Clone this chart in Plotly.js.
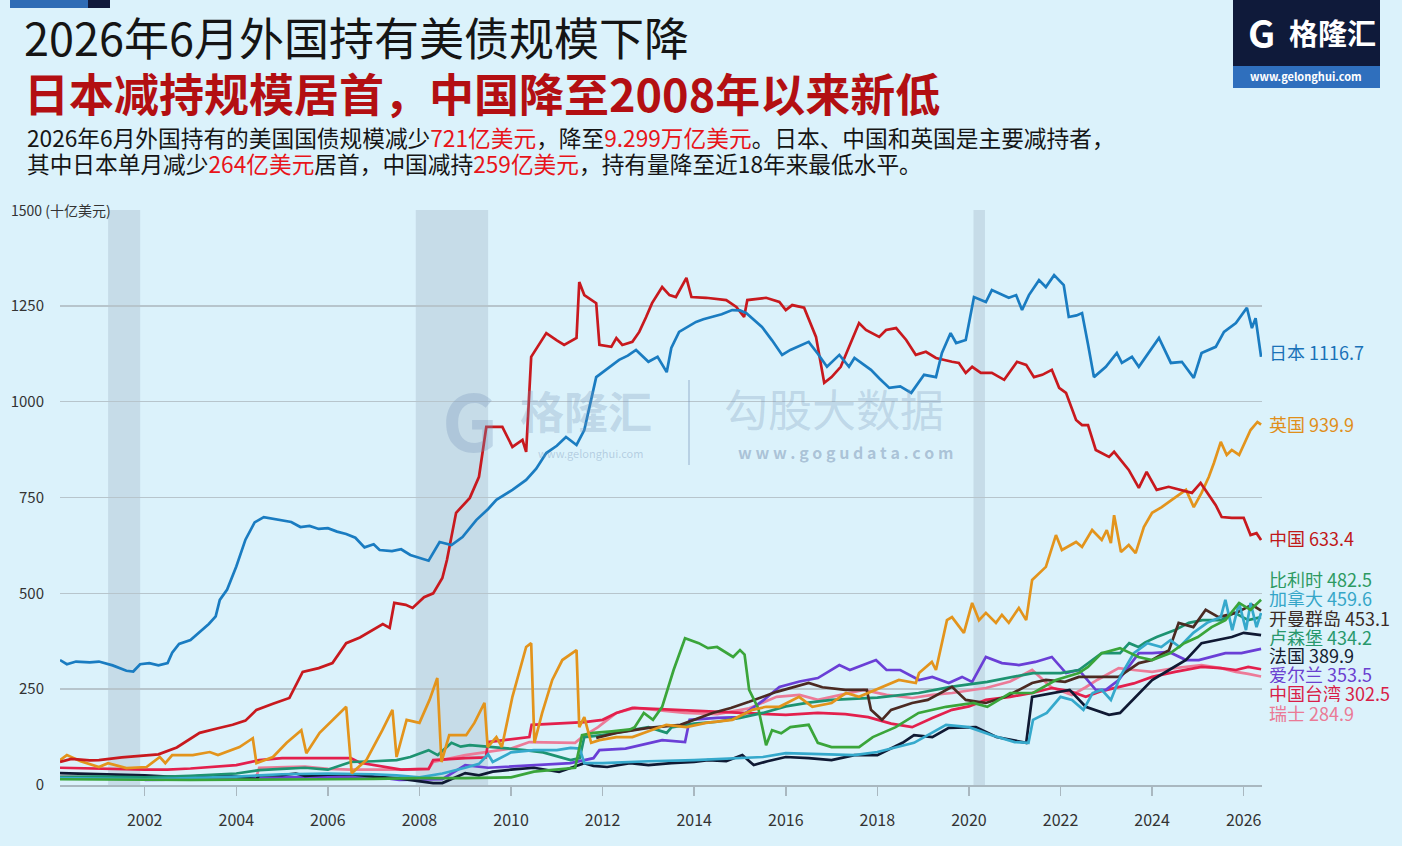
<!DOCTYPE html>
<html><head><meta charset="utf-8">
<script src="https://cdn.plot.ly/plotly-3.0.1.min.js"></script>
<style>html,body{margin:0;padding:0;background:#dbf2fb;}#chart{width:1402px;height:846px;}</style>
</head><body><div id="chart"></div>
<script>
// ---------- data (十亿美元) ----------
const seriesNames = ['日本','中国','英国','比利时','加拿大','开曼群岛','卢森堡','法国','爱尔兰','中国台湾','瑞士'];
const lastValues = ['1116.7','633.4','939.9','482.5','459.6','453.1','434.2','389.9','353.5','302.5','284.9'];
const xTickVals = [2002,2004,2006,2008,2010,2012,2014,2016,2018,2020,2022,2024,2026];
const yTickVals = [0,250,500,750,1000,1250,1500];
const yTickText = ['0','250','500','750','1000','1250',''];
const recessionStart = [2001.2, 2007.92, 2020.1];
const recessionEnd = [2001.9, 2009.5, 2020.35];

const jpX = [2000.15,2000.3,2000.5,2000.8,2001.0,2001.3,2001.6,2001.75,2001.9,2002.1,2002.3,2002.5,2002.6,2002.75,2003.0,2003.2,2003.4,2003.55,2003.64,2003.8,2004.0,2004.2,2004.4,2004.6,2004.8,2005.0,2005.2,2005.4,2005.6,2005.8,2006.0,2006.2,2006.4,2006.6,2006.8,2007.0,2007.13,2007.4,2007.6,2007.8,2008.0,2008.2,2008.44,2008.7,2008.94,2009.24,2009.5,2009.68,2010.03,2010.33,2010.55,2010.77,2011.0,2011.2,2011.43,2011.6,2011.86,2012.15,2012.36,2012.55,2012.73,2013.0,2013.2,2013.4,2013.5,2013.67,2013.85,2014.04,2014.2,2014.4,2014.6,2014.83,2015.0,2015.14,2015.3,2015.48,2015.7,2015.92,2016.1,2016.3,2016.5,2016.7,2016.9,2017.17,2017.38,2017.5,2017.7,2017.86,2018.05,2018.26,2018.5,2018.74,2019.02,2019.28,2019.41,2019.6,2019.72,2019.93,2020.11,2020.37,2020.5,2020.7,2020.87,2021.03,2021.16,2021.31,2021.53,2021.68,2021.86,2022.07,2022.18,2022.35,2022.47,2022.6,2022.73,2022.99,2023.23,2023.34,2023.56,2023.71,2023.97,2024.15,2024.41,2024.65,2024.91,2025.08,2025.39,2025.57,2025.83,2026.07,2026.18,2026.26,2026.38];
const jpY = [326,315,322,320,322,312,298,296,315,318,312,318,345,368,378,399,420,440,483,510,570,640,685,699,695,690,686,673,676,668,670,661,655,645,620,628,613,610,615,600,592,585,634,626,647,691,720,744,770,796,825,866,885,908,887,926,1064,1091,1109,1120,1135,1104,1117,1077,1140,1182,1195,1208,1215,1221,1228,1239,1238,1231,1215,1195,1160,1122,1135,1145,1156,1125,1091,1122,1091,1114,1098,1083,1060,1036,1040,1023,1070,1064,1127,1179,1153,1161,1273,1260,1291,1280,1271,1278,1239,1278,1317,1299,1330,1304,1221,1225,1231,1150,1064,1091,1127,1101,1117,1091,1135,1166,1101,1104,1062,1127,1143,1182,1205,1245,1192,1218,1117];

const cnX = [2000.15,2000.4,2000.8,2001.0,2001.5,2002.0,2002.3,2002.7,2003.2,2003.6,2003.92,2004.2,2004.44,2004.8,2005.16,2005.45,2005.8,2006.1,2006.4,2006.7,2006.98,2007.2,2007.35,2007.45,2007.7,2007.85,2008.1,2008.3,2008.5,2008.6,2008.8,2009.1,2009.3,2009.46,2009.81,2010.03,2010.25,2010.33,2010.44,2010.77,2011.0,2011.16,2011.43,2011.49,2011.6,2011.86,2011.93,2012.19,2012.3,2012.43,2012.65,2012.8,2012.95,2013.08,2013.3,2013.46,2013.6,2013.83,2013.94,2014.26,2014.7,2014.92,2015.09,2015.16,2015.57,2015.86,2016.0,2016.14,2016.4,2016.66,2016.84,2017.0,2017.2,2017.38,2017.6,2017.75,2018.04,2018.19,2018.41,2018.63,2018.84,2019.06,2019.28,2019.63,2019.78,2019.93,2020.07,2020.26,2020.5,2020.77,2021.05,2021.25,2021.42,2021.6,2021.81,2021.97,2022.12,2022.34,2022.47,2022.6,2022.77,2023.06,2023.17,2023.49,2023.71,2023.88,2024.1,2024.36,2024.63,2024.87,2025.06,2025.39,2025.52,2025.74,2026.0,2026.15,2026.28,2026.38];
const cnY = [60,68,64,65,72,78,80,98,136,148,157,168,196,212,227,295,305,318,370,385,404,420,410,475,470,462,490,500,540,587,710,749,804,934,934,882,900,869,1117,1179,1160,1148,1166,1312,1278,1257,1148,1143,1166,1148,1156,1182,1221,1257,1299,1278,1273,1323,1273,1271,1265,1247,1221,1265,1271,1260,1239,1252,1245,1169,1049,1064,1091,1143,1205,1187,1169,1187,1192,1161,1122,1130,1114,1104,1101,1075,1091,1075,1075,1057,1104,1096,1064,1070,1083,1036,1023,952,939,939,874,856,869,822,775,817,770,778,770,762,788,730,699,697,697,652,657,639];

const ukX = [2000.15,2000.3,2000.6,2001.0,2001.2,2001.6,2002.04,2002.33,2002.45,2002.6,2003.05,2003.42,2003.6,2004.07,2004.36,2004.44,2004.8,2005.1,2005.42,2005.53,2005.82,2006.1,2006.4,2006.52,2006.84,2007.19,2007.41,2007.5,2007.72,2008.0,2008.22,2008.39,2008.48,2008.65,2009.02,2009.2,2009.42,2009.49,2009.68,2009.8,2010.03,2010.33,2010.44,2010.51,2010.68,2010.9,2011.12,2011.43,2011.49,2011.6,2011.75,2011.93,2012.3,2012.65,2013.08,2013.39,2013.83,2014.26,2014.83,2015.27,2015.57,2015.86,2016.29,2016.58,2017.0,2017.32,2017.6,2017.97,2018.47,2018.84,2018.91,2019.19,2019.28,2019.52,2019.63,2019.89,2020.07,2020.22,2020.37,2020.59,2020.72,2020.87,2021.09,2021.25,2021.38,2021.68,2021.9,2022.03,2022.34,2022.47,2022.69,2022.9,2023.01,2023.1,2023.17,2023.32,2023.49,2023.64,2023.82,2024.0,2024.21,2024.43,2024.74,2024.91,2025.08,2025.24,2025.35,2025.5,2025.63,2025.74,2025.9,2026.15,2026.3,2026.38];
const ukY = [65,78,62,47,57,44,47,73,57,78,78,86,78,99,122,57,73,110,143,83,136,170,204,31,65,143,196,73,170,162,222,279,60,130,130,162,214,99,125,99,230,360,370,110,188,274,326,352,151,177,110,117,125,125,143,157,151,162,170,196,204,204,230,204,214,240,230,248,274,266,292,321,300,430,438,397,475,430,449,423,444,423,462,430,535,569,652,613,634,621,665,639,665,631,704,608,626,605,673,710,725,744,770,725,762,804,840,895,861,874,861,926,947,940];

const beX = [2000.15,2001,2002,2003,2004,2005,2006,2007,2008,2009,2010,2010.5,2011.4,2011.55,2011.8,2012.2,2012.6,2012.7,2012.9,2013.1,2013.3,2013.55,2013.8,2014.1,2014.3,2014.5,2014.7,2014.85,2015.0,2015.1,2015.2,2015.4,2015.57,2015.7,2015.9,2016.1,2016.5,2016.7,2017.0,2017.3,2017.6,2017.9,2018.4,2018.9,2019.5,2020.1,2020.4,2020.9,2021.4,2021.9,2022.4,2022.6,2022.9,2023.3,2023.7,2024.0,2024.4,2024.7,2025.0,2025.3,2025.6,2025.9,2026.15,2026.38];
const beY = [15,14,13,13,14,14,15,16,18,18,20,35,45,130,136,140,145,151,188,170,204,300,383,370,357,360,345,334,352,340,248,200,104,143,135,151,157,110,99,99,99,125,151,188,204,214,204,240,240,274,292,308,344,357,334,326,344,370,386,412,430,475,457,483];

const caX = [2000.15,2001,2002,2003,2004,2005,2006,2007,2007.5,2008,2008.5,2009,2009.3,2009.5,2009.6,2010,2010.5,2011,2011.3,2011.5,2011.6,2012,2013,2014,2015,2015.5,2016,2017,2017.5,2018,2018.8,2019.5,2020.0,2020.5,2021.0,2021.3,2021.4,2021.7,2022.0,2022.25,2022.5,2022.7,2022.9,2023.1,2023.3,2023.6,2023.9,2024.2,2024.4,2024.6,2024.9,2025.2,2025.5,2025.6,2025.75,2025.9,2026.05,2026.15,2026.28,2026.38];
const caY = [18,17,15,18,22,28,30,28,25,20,30,45,55,80,60,85,91,91,97,95,57,57,62,65,70,73,83,80,78,86,110,157,151,130,112,110,170,188,230,222,196,240,248,222,282,344,370,360,378,360,397,423,438,483,404,475,404,475,412,449];

const kyX = [2011.86,2012.3,2013.0,2013.7,2014.4,2014.8,2015.2,2015.8,2016.5,2016.8,2017.3,2017.77,2017.86,2018.1,2018.3,2018.76,2019.1,2019.63,2019.93,2020.37,2020.8,2021.38,2021.68,2022.1,2022.4,2023.0,2023.27,2023.71,2024.0,2024.37,2024.58,2024.9,2025.17,2025.45,2025.83,2026.18,2026.38];
const kyY = [123,136,149,157,188,201,217,243,266,255,248,248,196,170,196,214,222,256,222,214,230,266,274,269,282,282,282,318,326,352,423,412,457,438,449,470,455];

const luX = [2000.15,2001,2002,2003,2004,2004.5,2005,2005.5,2006,2006.5,2007,2007.5,2007.8,2008.2,2008.4,2008.7,2008.9,2009.1,2009.6,2010.0,2010.3,2010.7,2011.3,2011.5,2011.6,2012.0,2012.5,2013.0,2013.4,2013.5,2014.0,2014.5,2015.0,2015.5,2016.0,2016.5,2017.0,2017.5,2018.0,2018.9,2019.6,2020.4,2021.0,2021.4,2022.0,2022.4,2022.9,2023.3,2023.5,2023.7,2023.85,2024.1,2024.5,2024.8,2025.1,2025.5,2025.8,2026.1,2026.38];
const luY = [21,22,20,24,30,39,42,45,40,60,62,65,73,91,78,110,100,104,99,95,91,85,65,70,125,130,140,151,136,150,160,165,175,188,205,215,222,225,228,240,256,269,282,292,292,300,344,344,370,360,372,386,404,423,430,430,449,430,438];

const frX = [2000.15,2000.5,2001,2001.5,2002,2002.5,2003,2003.5,2004,2004.44,2004.5,2005,2005.3,2005.5,2006,2006.5,2007,2007.5,2008,2008.3,2008.5,2008.7,2009.0,2009.3,2009.6,2010.0,2010.5,2011.05,2011.3,2011.6,2011.8,2012.1,2012.6,2013.0,2013.5,2014.0,2014.3,2014.7,2015.05,2015.3,2015.6,2016.0,2016.5,2017.0,2017.5,2018.0,2018.55,2018.8,2019.2,2019.56,2020.15,2020.6,2020.95,2021.25,2021.38,2021.8,2022.2,2022.55,2023.06,2023.3,2023.64,2024.0,2024.37,2024.74,2025.08,2025.45,2025.74,2026.0,2026.38];
const frY = [31,30,28,26,25,22,22,25,22,15,25,26,30,24,27,28,22,18,10,5,5,15,31,25,35,40,45,34,45,57,50,47,57,52,57,60,65,62,78,52,62,73,70,65,78,78,110,130,125,149,151,125,117,110,230,240,248,204,183,188,230,274,300,326,370,378,386,397,391];

const ieX = [2002.0,2003,2004,2005,2006,2007,2007.56,2008.5,2008.9,2009.0,2009.5,2010.3,2011.3,2011.8,2011.93,2012.5,2013.3,2013.8,2013.9,2014.5,2015.0,2015.5,2015.86,2016.3,2016.7,2017.17,2017.4,2017.97,2018.2,2018.5,2018.91,2019.2,2019.56,2019.85,2020.07,2020.37,2020.72,2021.09,2021.45,2021.81,2022.12,2022.4,2022.77,2022.99,2023.27,2023.71,2024.0,2024.37,2024.74,2025.02,2025.6,2025.95,2026.38];
const ieY = [13,14,16,20,22,22,13,15,45,52,45,50,57,70,91,95,117,112,170,175,177,220,256,270,279,313,300,326,300,300,274,282,266,282,269,334,318,313,321,334,292,300,248,248,274,344,344,347,326,326,344,344,355];

const twX = [2000.15,2001,2002,2002.5,2003,2004,2004.5,2005,2006,2006.5,2006.7,2007.2,2007.6,2008.2,2008.3,2009.0,2009.45,2009.5,2010.0,2010.4,2010.45,2011.0,2011.6,2012.0,2012.3,2012.65,2013.2,2013.8,2014.5,2015.0,2015.5,2016.0,2016.7,2017.3,2017.8,2018.3,2018.76,2019.2,2019.63,2020.0,2020.37,2020.9,2021.38,2021.81,2022.2,2022.55,2022.9,2023.27,2023.6,2024.0,2024.5,2025.08,2025.5,2025.83,2026.1,2026.38];
const twY = [45,42,40,40,43,52,65,70,71,70,58,48,40,42,65,70,72,112,120,125,157,160,164,170,188,201,198,195,190,188,185,183,188,185,177,160,151,175,196,205,222,230,240,253,245,230,245,256,265,282,295,308,305,300,308,302];

const chX = [2000.15,2001,2002,2003,2004,2004.44,2004.5,2005,2005.5,2006,2006.5,2007,2007.5,2008.2,2008.3,2009.0,2009.5,2010.0,2010.4,2011.0,2011.4,2011.55,2011.9,2012.3,2012.7,2013.2,2013.8,2014.5,2015.2,2015.8,2016.3,2016.7,2017.2,2017.7,2018.2,2018.76,2019.2,2019.63,2020.37,2020.9,2021.38,2021.8,2022.25,2022.55,2022.8,2023.27,2023.6,2024.0,2024.5,2025.08,2025.5,2025.83,2026.1,2026.38];
const chY = [22,20,18,19,20,22,45,47,48,42,40,40,40,42,60,78,86,95,112,110,110,125,151,188,201,195,188,185,200,230,235,222,235,248,235,227,235,240,253,270,300,255,235,255,274,305,300,295,305,313,305,295,290,283];

// ---------- styles ----------
const seriesX = [jpX,cnX,ukX,beX,caX,kyX,luX,frX,ieX,twX,chX];
const seriesY = [jpY,cnY,ukY,beY,caY,kyY,luY,frY,ieY,twY,chY];
const lineColors = ['#1a7cc1','#c8191e','#e3941c','#3aa53a','#35a9cc','#4b2a22','#1d9371','#0f1933','#6a3fd6','#e3204d','#ec7b98'];
const labelColors = ['#1a72b8','#c01818','#e08f1a','#2d9a62','#35a6c8','#3a2a25','#27986c','#141c30','#6a40d0','#d81e48','#ea7a96'];
const labelY = [351,537,423,578,597,617,636,654,673,692,712];
const drawOrder = [10,9,8,7,6,5,4,3,2,1,0];

const L=60, R=1262, T=210, B=785, W=1402, H=846;
const px = x => (x-L)/(R-L);
const py = y => (B-y)/(B-T);
const FONT = '"Noto Sans CJK SC","Noto Sans",sans-serif';

const traces = drawOrder.map(i => ({
  type:'scatter', mode:'lines', x:seriesX[i], y:seriesY[i], name:seriesNames[i],
  line:{color:lineColors[i], width:2.7}, hoverinfo:'skip'
}));

const shapes = [];
for (let k=0;k<recessionStart.length;k++){
  shapes.push({type:'rect', xref:'x', yref:'paper', x0:recessionStart[k], x1:recessionEnd[k], y0:0, y1:1,
    fillcolor:'rgba(150,170,190,0.30)', line:{width:0}, layer:'below'});
}
// top-left bar
shapes.push({type:'rect',xref:'paper',yref:'paper',x0:px(10),x1:px(88),y0:py(0),y1:py(8),fillcolor:'#2e6cb5',line:{width:0}});
shapes.push({type:'rect',xref:'paper',yref:'paper',x0:px(88),x1:px(110),y0:py(0),y1:py(8),fillcolor:'#101a3c',line:{width:0}});
// logo
shapes.push({type:'rect',xref:'paper',yref:'paper',x0:px(1233),x1:px(1380),y0:py(0),y1:py(66),fillcolor:'#0f1a3a',line:{width:0}});
shapes.push({type:'rect',xref:'paper',yref:'paper',x0:px(1233),x1:px(1380),y0:py(66),y1:py(88),fillcolor:'#2f6fbd',line:{width:0}});
// watermark divider
shapes.push({type:'line',xref:'paper',yref:'paper',x0:px(689),x1:px(689),y0:py(380),y1:py(465),line:{color:'rgba(120,150,185,0.35)',width:2}});

function ann(text,x,y,size,color,o){
  return Object.assign({text:text, xref:'paper', yref:'paper', x:px(x), y:py(y), showarrow:false,
    xanchor:'left', yanchor:'middle', font:{family:FONT, size:size, color:color}}, o||{});
}
const RED='#e8141a';
const annotations = [
  ann('2026年6月外国持有美债规模下降',22,37,45,'#151515'),
  ann('<b>日本减持规模居首，中国降至2008年以来新低</b>',22,92,45,'#b30f12'),
  ann('2026年6月外国持有的美国国债规模减少<span style="color:'+RED+'">721亿美元</span>，降至<span style="color:'+RED+'">9.299万亿美元</span>。日本、中国和英国是主要减持者，',25,137,22.7,'#151515'),
  ann('其中日本单月减少<span style="color:'+RED+'">264亿美元</span>居首，中国减持<span style="color:'+RED+'">259亿美元</span>，持有量降至近18年来最低水平。',25,164,22.7,'#151515'),
  ann('1500 (十亿美元)',9,210,14,'#333333'),
  // logo text
  ann('<b>G</b>',1246,31,38,'#ffffff'),
  ann('<b>格隆汇</b>',1287,32,29,'#ffffff'),
  ann('<b>www.gelonghui.com</b>',1306,76,11,'#ffffff',{xanchor:'center'}),
  // watermark
  ann('<b>G</b>',440,418,78,'rgba(120,150,185,0.30)'),
  ann('<b>格隆汇</b>',518,410,44,'rgba(120,150,185,0.30)'),
  ann('www.gelonghui.com',590,453,11,'rgba(120,150,185,0.40)',{xanchor:'center'}),
  ann('勾股大数据',722,408,44,'rgba(120,150,185,0.30)'),
  ann('<b>w w w . g o g u d a t a . c o m</b>',845,452,16,'rgba(110,135,170,0.45)',{xanchor:'center'})
];
for (let i=0;i<seriesNames.length;i++){
  annotations.push(ann(seriesNames[i]+' '+lastValues[i],1267,labelY[i],18,labelColors[i],{height:19}));
}

const layout = {
  width:W, height:H, margin:{l:L, r:W-R, t:T, b:H-B, pad:0},
  paper_bgcolor:'#dbf2fb', plot_bgcolor:'#dbf2fb', showlegend:false,
  font:{family:FONT, color:'#333'},
  xaxis:{range:[2000.15,2026.4], tickvals:xTickVals, ticktext:xTickVals.map(String), showgrid:false, zeroline:false,
    showline:true, linecolor:'#a9b8c0', linewidth:2, ticks:'outside', ticklen:9, tickwidth:1.5, tickcolor:'#a9b8c0',
    tickfont:{family:FONT,size:16,color:'#333'}, ticklabelstandoff:11, fixedrange:true},
  yaxis:{range:[0,1500], tickvals:yTickVals, ticktext:yTickText, showgrid:true, gridcolor:'#b7c5cc', gridwidth:1.5,
    zeroline:false, showline:false, ticks:'', tickfont:{family:FONT,size:15,color:'#333'}, ticklabelstandoff:15, fixedrange:true},
  shapes:shapes, annotations:annotations
};
Plotly.newPlot('chart', traces, layout, {displayModeBar:false, staticPlot:true});
</script></body></html>
